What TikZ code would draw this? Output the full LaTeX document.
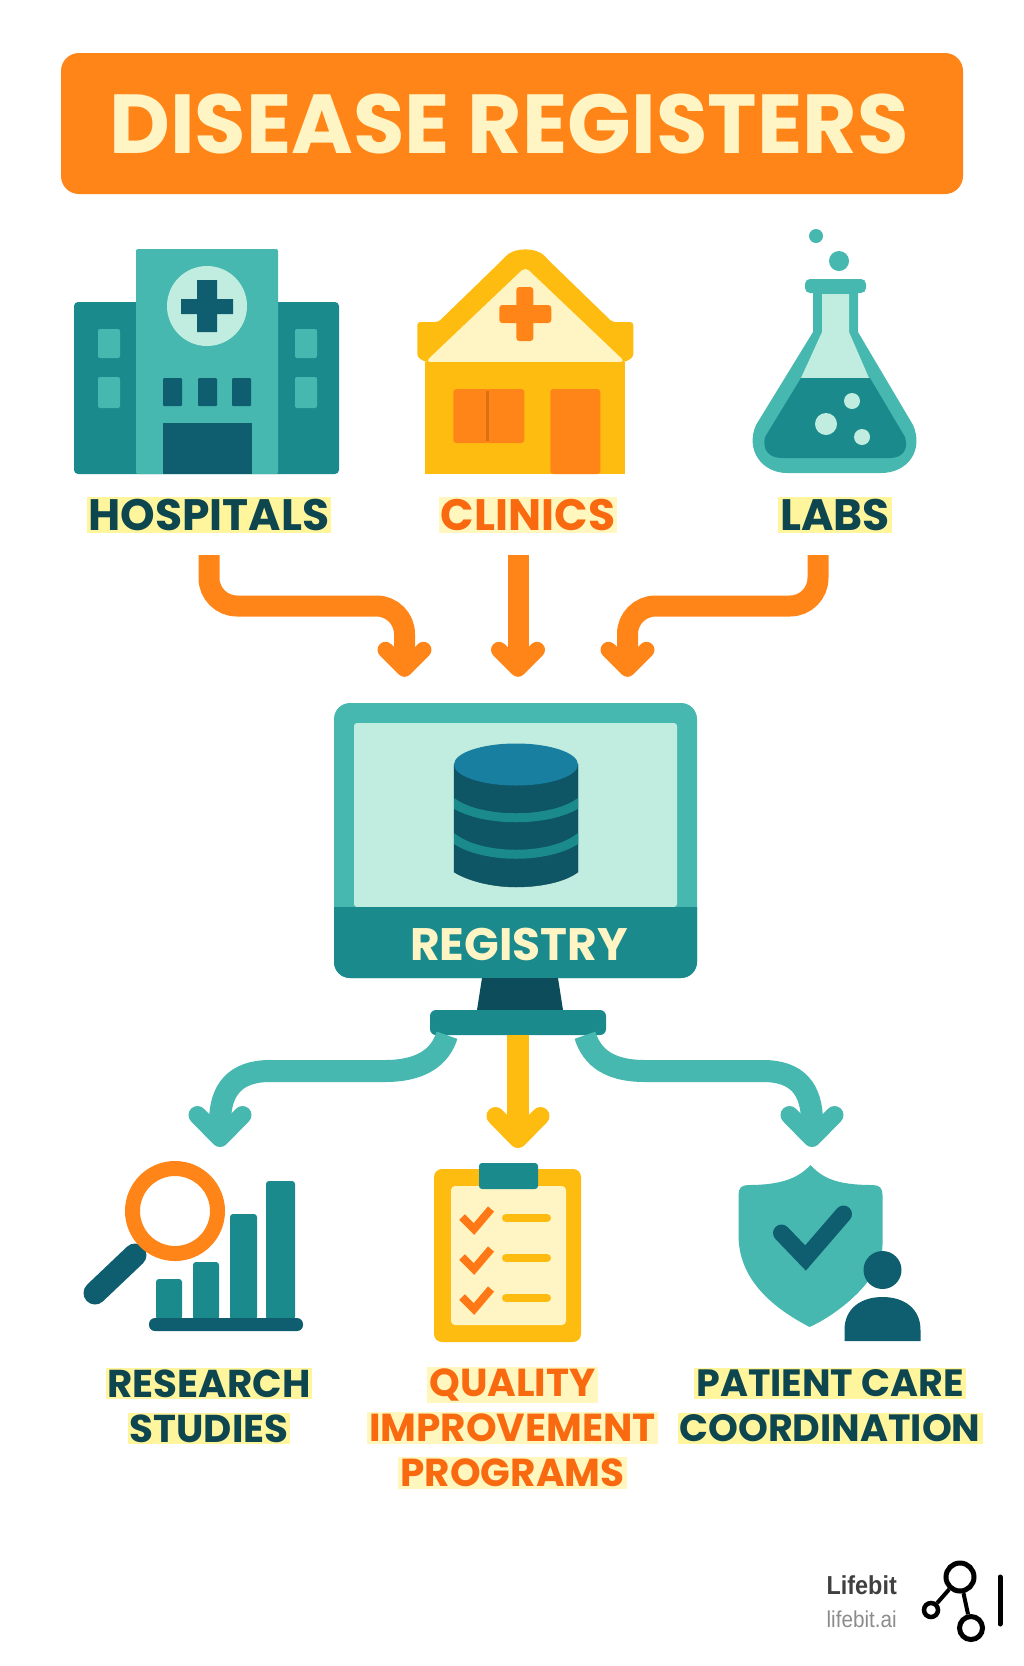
\documentclass[tikz,border=0pt]{standalone}
\usepackage{fontspec}
\setmainfont{Poppins}
\newfontfamily\logofont[FakeStretch=0.9]{Liberation Sans}
\usetikzlibrary{arrows.meta}
\definecolor{orangeM}{HTML}{FF8518}
\definecolor{yellowM}{HTML}{FFBC10}
\definecolor{creamM}{HTML}{FFF5C4}
\definecolor{markM}{HTML}{FFF59D}
\definecolor{markO}{HTML}{FFF7BE}
\definecolor{tealL}{HTML}{47B8B0}
\definecolor{tealM}{HTML}{1A8A8C}
\definecolor{tealD}{HTML}{0F5E70}
\definecolor{tealB}{HTML}{0E5566}
\definecolor{tealX}{HTML}{0D4C5A}
\definecolor{tealT}{HTML}{197FA0}
\definecolor{mintM}{HTML}{C1ECE0}
\definecolor{inkD}{HTML}{0E4650}
\definecolor{inkO}{HTML}{F96A10}
\newcommand{\marked}[1]{{\setlength{\fboxsep}{2pt}\colorbox{markM}{\vphantom{H}#1}}}
\newcommand{\markedO}[1]{{\setlength{\fboxsep}{2pt}\colorbox{markO}{\vphantom{H}#1}}}
\tikzset{
  bigcap/.style = {font=\bfseries\fontsize{44}{50}\selectfont, align=center, inner sep=0pt},
  smallcap/.style = {font=\bfseries\fontsize{#1}{45}\selectfont, align=center, inner sep=0pt},
  inflow/.style = {draw=orangeM, line width=21pt, rounded corners=28pt,
    -{Straight Barb[length=19pt, width=38pt, line width=16pt, round]}},
  outflow/.style = {line width=22pt,
    -{Straight Barb[length=23pt, width=45pt, line width=18pt, round]}}
}
\begin{document}
\begin{tikzpicture}[x=1pt, y=-1pt]
  \useasboundingbox (0,0) rectangle (1024,1666);
  \node[fill=orangeM, rounded corners=18pt, minimum width=902pt, minimum height=141pt, inner sep=0pt,
    text=creamM, font=\bfseries\fontsize{83.7}{90}\selectfont] (title) at (512,123.5) {\hspace*{-6pt}DISEASE REGISTERS};

  % hospital
  \fill[tealM, rounded corners=4pt] (74,302) rectangle (339,474);
  \fill[tealL, rounded corners=2pt] (136,249) rectangle (278,474);
  \fill[mintM] (207,306) circle (40pt);
  \fill[tealD] (197,280) rectangle (217,332) (181,299) rectangle (233,314);
  \foreach \wx in {98,295} {
    \fill[tealL, rounded corners=2pt] (\wx,329) rectangle +(22,29) (\wx,377) rectangle +(22,31);
  }
  \foreach \wx in {163,198,232} {
    \fill[tealD, rounded corners=1pt] (\wx,378) rectangle +(19,28);
  }
  \fill[tealD] (163,423) rectangle (252,474);
  \node[bigcap, text=inkD] (hospitals) at (209,515) {\marked{HOSPITALS}};

  % clinic
  \begin{scope}[xshift=-2.7pt]
    \fill[yellowM, rounded corners=3pt] (420,322) -- (441,322) -- (506,259) .. controls (516,247) and (540,247) .. (550,259) -- (615,322) -- (636,322)
      -- (636,357) -- (628,362) -- (428,362) -- (420,357) -- cycle;
    \fill[creamM, rounded corners=5pt] (528,267) -- (628,362) -- (428,362) -- cycle;
    \fill[yellowM] (428,362) rectangle (628,474);
    \fill[orangeM, rounded corners=3pt] (456,389) rectangle (527,443);
    \draw[orangeM!85!black, line width=2.5pt] (490,391) -- (490,441);
    \fill[orangeM, rounded corners=3pt] (553,389) -- (603,389) -- (603,474) -- (553,474) -- cycle;
    \fill[orangeM, rounded corners=3pt] (519,287) rectangle (536,341) (502,305) rectangle (554,323);
  \end{scope}
  \node[bigcap, text=inkO] (clinics) at (528,515) {\markedO{CLINICS}};

  % flask
  \begin{scope}[xshift=-3pt]
    \fill[tealL] (819,236) circle (7pt) (842,261) circle (10pt);
    \fill[tealL] (816,293) -- (816,332) -- (759,425) .. controls (748,450) and (765,473) .. (790,473) -- (884,473)
      .. controls (911,473) and (927,450) .. (916,425) -- (861,332) -- (861,293) -- cycle;
    \fill[tealL, rounded corners=5pt] (808,279) rectangle (869,293);
    \fill[mintM] (825,294) -- (852,294) -- (852,332) -- (872,378) -- (804,378) -- (825,332) -- cycle;
    \fill[tealM] (804,378) -- (873,378) -- (908,437) .. controls (912,450) and (905,458) .. (893,458) -- (785,458)
      .. controls (772,458) and (765,450) .. (768,437) -- cycle;
    \fill[mintM] (855,401) circle (8pt) (829,424) circle (11pt) (865,437) circle (8pt);
  \end{scope}
  \node[bigcap, text=inkD] (labs) at (835,515) {\marked{LABS}};

  % monitor
  \node[fill=tealL, rounded corners=16pt, minimum width=363pt, minimum height=275pt, inner sep=0pt] (monitor) at (515.5,840.5) {};
  \fill[mintM, rounded corners=3pt] (354,723) -- (677,723) -- (677,907) -- (354,907) -- cycle;
  \fill[tealM] (334,907) -- (697,907) [rounded corners=16pt] -- (697,978) -- (334,978) [sharp corners] -- cycle;
  \fill[tealX] (482,978) -- (558,978) -- (563,1010) -- (477,1010) -- cycle;
  \node[fill=tealM, rounded corners=6pt, minimum width=176pt, minimum height=25pt, inner sep=0pt] (base) at (518,1022.5) {};
  \node[text=creamM, inner sep=0pt, font=\bfseries\fontsize{45.5}{50}\selectfont] (registry) at (519,944) {REGISTRY};
  \fill[tealB, draw=tealX] (454,764) -- (454,872) .. controls (470,882) and (495,887) .. (516,887)
    .. controls (540,887) and (565,882) .. (578,872) -- (578,764) -- cycle;
  \begin{scope}
    \clip (454,764) rectangle (578,887);
    \draw[tealM, line width=9pt] (452,802) .. controls (480,823) and (552,823) .. (580,802);
    \draw[tealM, line width=9pt] (452,837) .. controls (480,860) and (552,860) .. (580,837);
  \end{scope}
  \fill[tealT] (516,764.5) ellipse (62pt and 21pt);

  \draw[inflow, shorten <=22pt, shorten >=26pt] (hospitals.south) |- (404.5,606) -- ([xshift=-111pt]monitor.north);
  \draw[inflow, shorten <=22pt, shorten >=26pt] ([xshift=-10pt]clinics.south) -- ([xshift=2.5pt]monitor.north);
  \draw[inflow, shorten <=22pt, shorten >=26pt] ([xshift=-17pt]labs.south) |- (627.5,606) -- ([xshift=112pt]monitor.north);

  \coordinate (outL) at (220,1147);
  \coordinate (outM) at (518,1148);
  \coordinate (outR) at (812,1147);
  \draw[outflow, draw=tealL] ([xshift=-71pt]base.south) .. controls (440,1058) and (420,1071) .. (385,1071)
    -- (270,1071) .. controls (235,1071) and (220,1090) .. (220,1122) -- (outL);
  \draw[outflow, draw=yellowM] (base.south -| outM) -- (outM);
  \draw[outflow, draw=tealL] ([xshift=67pt]base.south) .. controls (592,1058) and (610,1071) .. (645,1071)
    -- (763,1071) .. controls (798,1071) and (812,1090) .. (812,1122) -- (outR);

  % research
  \draw[tealD, line width=23pt, line cap=round] (135,1255) -- (95,1293);
  \foreach \bx/\btop/\bw in {156/1279/26, 193/1262/26, 230/1214/27, 266/1181/29} {
    \fill[tealM, rounded corners=3pt] (\bx,\btop) -- (\bx+\bw,\btop) -- (\bx+\bw,1320) -- (\bx,1320) -- cycle;
  }
  \fill[tealD, rounded corners=6pt] (149,1318) rectangle (303,1331);
  \draw[orangeM, line width=15pt] (175,1211) circle (42.5pt);
  \node[smallcap=38.8, text=inkD] (research) at (209,1406) {\marked{RESEARCH}\\\marked{STUDIES}};

  % clipboard
  \begin{scope}[xshift=-2pt]
    \fill[yellowM, rounded corners=8pt] (436,1169) rectangle (583,1342);
    \fill[creamM, rounded corners=4pt] (453,1186) rectangle (568,1325);
    \fill[tealM, rounded corners=3pt] (481,1163) rectangle (540,1189);
    \foreach \cy in {1206,1246,1286} {
      \draw[orangeM!90!red, line width=8pt] (464,\cy+11) -- (476,\cy+23) -- (493,\cy+3);
      \draw[yellowM, line width=8pt, line cap=round] (508,\cy+12) -- (549,\cy+12);
    }
  \end{scope}
  \node[smallcap=39, text=inkO] (quality) at (512.5,1428) {\markedO{QUALITY}\\\markedO{IMPROVEMENT}\\\markedO{PROGRAMS}};

  % shield
  \begin{scope}[xshift=-3.5pt]
    \fill[tealL] (814,1165) .. controls (826,1178) and (840,1185) .. (876,1185) .. controls (883,1185) and (886,1188) .. (886,1195) -- (886,1245)
      .. controls (886,1280) and (840,1315) .. (813,1327) .. controls (785,1312) and (742,1285) .. (742,1235)
      -- (742,1195) .. controls (742,1188) and (745,1185) .. (752,1185) .. controls (785,1185) and (802,1178) .. (814,1165);
    \draw[tealD, line width=17pt, line cap=round] (785,1233) -- (809,1258) -- (847,1214);
    \fill[tealD] (886,1270) circle (19pt);
    \fill[tealD] (848,1341) -- (848,1330) .. controls (848,1308) and (865,1297) .. (886,1297)
      .. controls (907,1297) and (924,1308) .. (924,1330) -- (924,1341) -- cycle;
  \end{scope}
  \node[smallcap=38, text=inkD] (patient) at (830,1406) {\marked{PATIENT CARE}\\\marked{COORDINATION}};

  % logo
  \node[anchor=base east, inner sep=0pt, text=black!75, font=\logofont\bfseries\fontsize{26}{30}\selectfont] (brand) at (897,1594) {Lifebit};
  \node[anchor=base east, inner sep=0pt, text=black!45, font=\logofont\fontsize{23}{26}\selectfont] (site) at (897,1627) {lifebit.ai};
  \node[draw, circle, line width=5pt, minimum size=28pt, inner sep=0pt] (hub) at (960,1577) {};
  \node[draw, circle, line width=4.5pt, minimum size=14pt, inner sep=0pt] (leafA) at (931,1610) {};
  \node[draw, circle, line width=5pt, minimum size=23pt, inner sep=0pt] (leafB) at (971,1628) {};
  \draw[line width=4pt] (hub) -- (leafA);
  \draw[line width=4pt] (hub) -- (leafB);
  \draw[line width=5pt, line cap=round] (1000,1577) -- (1000,1624);
\end{tikzpicture}
\end{document}
